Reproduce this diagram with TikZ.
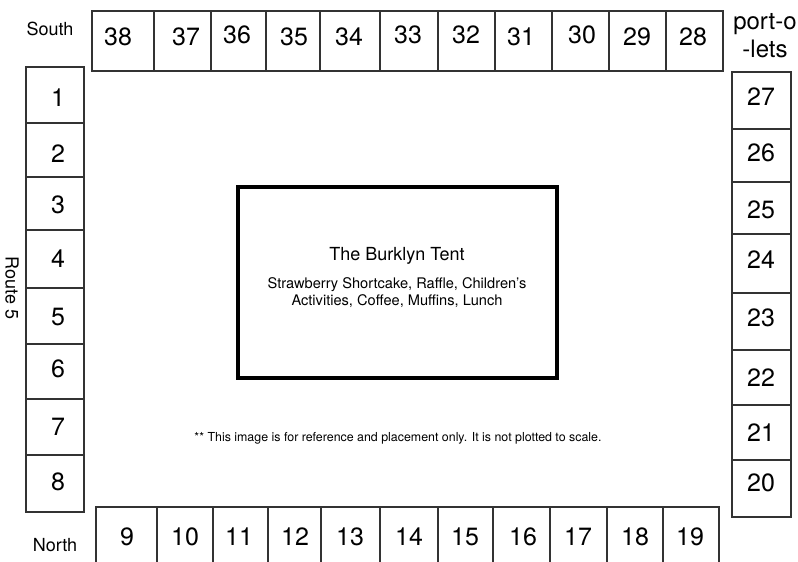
\documentclass[tikz,border=0pt]{standalone}
\usepackage{fontspec}
\setmainfont{TeX Gyre Heros}
\begin{document}
\begin{tikzpicture}[x=1pt,y=-1pt,
  stall/.style={draw=black!80,line width=1.1pt,inner sep=0pt,outer sep=0pt,anchor=north west},
  num/.style={inner sep=0pt,font=\fontsize{25}{28}\selectfont},
  side/.style={inner sep=0pt,font=\fontsize{18}{22}\selectfont},
  tent/.style={draw=black,line width=3.5pt,inner sep=0pt,anchor=north west}]
\useasboundingbox (0,0) rectangle (798,562);
\begin{scope}
\clip (0,0) rectangle (798,562);
% top row
\foreach \l/\r/\t/\lx/\ly in {92/154/38/118/37,154/211/37/186/37,211/266/36/237/35,266/320/35/294/37,320/380/34/349/37,380/438/33/408/35,438/495/32/466/35,495/552/31/521/37,552/609/30/582/35,609/666/29/637/37,666/723/28/693/37}{
  \pgfmathsetmacro\w{\r-\l}
  \node[stall,minimum width=\w pt,minimum height=60pt] (s\t) at (\l,11) {};
  \node[num] (n\t) at (\lx,\ly) {\t};
}
% left column
\foreach \a/\b/\t/\ly in {67/123/1/98,123/177/2/154,177/230/3/205,230/288/4/259,288/344/5/317,344/399/6/369,399/455/7/427,455/512/8/482}{
  \pgfmathsetmacro\h{\b-\a}
  \node[stall,minimum width=58pt,minimum height=\h pt] (s\t) at (26,\a) {};
  \node[num] (n\t) at (58,\ly) {\t};
}
% right column
\foreach \a/\b/\t/\ly in {72/129/27/97,129/182/26/153,182/234/25/210,234/293/24/260,293/350/23/318,350/405/22/378,405/460/21/433,460/517/20/483}{
  \pgfmathsetmacro\h{\b-\a}
  \node[stall,minimum width=59pt,minimum height=\h pt] (s\t) at (732,\a) {};
  \node[num] (n\t) at (761,\ly) {\t};
}
% bottom row
\foreach \l/\r/\t/\lx in {96/157/9/127,157/213/10/185,213/268/11/239,268/321/12/295,321/380/13/350,380/438/14/409,438/493/15/465,493/550/16/523,550/607/17/578,607/663/18/635,663/719/19/690}{
  \pgfmathsetmacro\w{\r-\l}
  \node[stall,minimum width=\w pt,minimum height=70pt] (s\t) at (\l,507) {};
  \node[num] (n\t) at (\lx,537) {\t};
}
\end{scope}
% tent
\node[tent,minimum width=319pt,minimum height=191pt] (tent) at (236,185) {};
\node[inner sep=0pt,font=\fontsize{18}{22}\selectfont] (title) at (397,256) {The Burklyn Tent};
\node[inner sep=0pt,align=center,font=\fontsize{14.6}{17}\selectfont] (items) at (397,293)
  {Strawberry Shortcake, Raffle, Children’s\\Activities, Coffee, Muffins, Lunch};
\node[inner sep=0pt,font=\fontsize{12.4}{14}\selectfont] (note) at (398,438)
  {** This image is for reference and placement only. It is not plotted to scale.};
% side labels
\node[side] (south) at (50,29) {South};
\node[side] (north) at (55,545) {North};
\node[side,rotate=-90] (route) at (12,288) {Route 5};
\node[inner sep=0pt,align=center,font=\fontsize{24}{28}\selectfont] (porto) at (765,36) {port-o\\-lets};
\end{tikzpicture}
\end{document}
